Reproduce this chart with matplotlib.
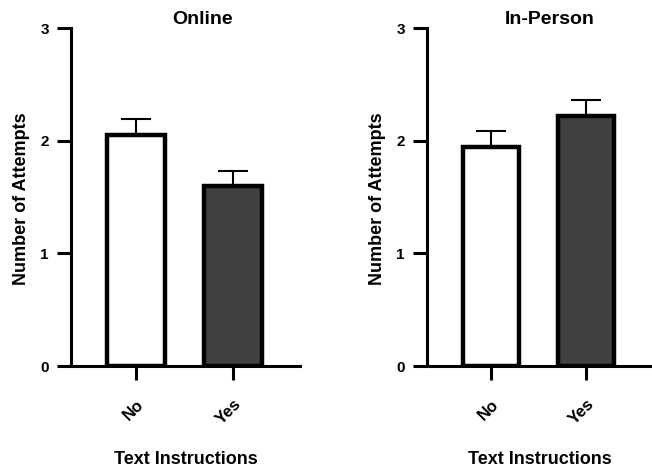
import matplotlib
matplotlib.use("Agg")
import matplotlib.pyplot as plt

plt.rcParams['font.family'] = ['Liberation Sans', 'DejaVu Sans']
plt.rcParams['font.weight'] = 'bold'

categories = ["No", "Yes"]
online_means = [2.05, 1.60]
online_err = [0.14, 0.13]
inperson_means = [1.94, 2.22]
inperson_err = [0.15, 0.14]
panel_titles = ["Online", "In-Person"]
yticks = [0, 1, 2, 3]
ylabel = "Number of Attempts"
xlabel = "Text Instructions"
bar_colors = ["white", "#404040"]

W, H = 652, 467
fig = plt.figure(figsize=(W / 100, H / 100), dpi=100)

axes_px = [(71, 300), (427, 652)]
top_px, bot_px = 28, 366
title_x = [0.576, 0.547]
ylabel_x = [22, 377]

data = [(online_means, online_err), (inperson_means, inperson_err)]

for i, ((m, e), (x0, x1)) in enumerate(zip(data, axes_px)):
    ax = fig.add_axes([x0 / W, 1 - bot_px / H, (x1 - x0) / W, (bot_px - top_px) / H])
    pos = list(range(len(categories)))
    ax.bar(pos, m, width=0.59, color=bar_colors, edgecolor="black", linewidth=3.2, zorder=3)
    ax.errorbar(pos, m, yerr=[[0] * len(e), e], fmt="none", ecolor="black",
                elinewidth=1.5, capsize=11, capthick=1.5, zorder=2)
    ax.set_xlim(-0.67, 1.69)
    ax.set_ylim(0, 3)
    ax.set_yticks(yticks)
    ax.set_xticks(pos)
    ax.set_xticklabels(categories, rotation=45, ha="right", rotation_mode="anchor",
                       fontsize=12, fontweight="bold")
    ax.tick_params(axis="y", labelsize=11, width=2.2, length=10, pad=6)
    ax.tick_params(axis="x", width=2.2, length=10, pad=12)
    for s in ["top", "right"]:
        ax.spines[s].set_visible(False)
    for s in ["left", "bottom"]:
        ax.spines[s].set_linewidth(2.2)
    ax.set_title(panel_titles[i], fontsize=14, fontweight="bold", x=title_x[i], pad=2)
    fig.text(ylabel_x[i] / W, 1 - 199 / H, ylabel, rotation=90, ha="center", va="center",
             fontsize=13, fontweight="bold")
    ax.set_xlabel(xlabel, fontsize=13, fontweight="bold", labelpad=17)

fig.savefig("out.png", dpi=100)
